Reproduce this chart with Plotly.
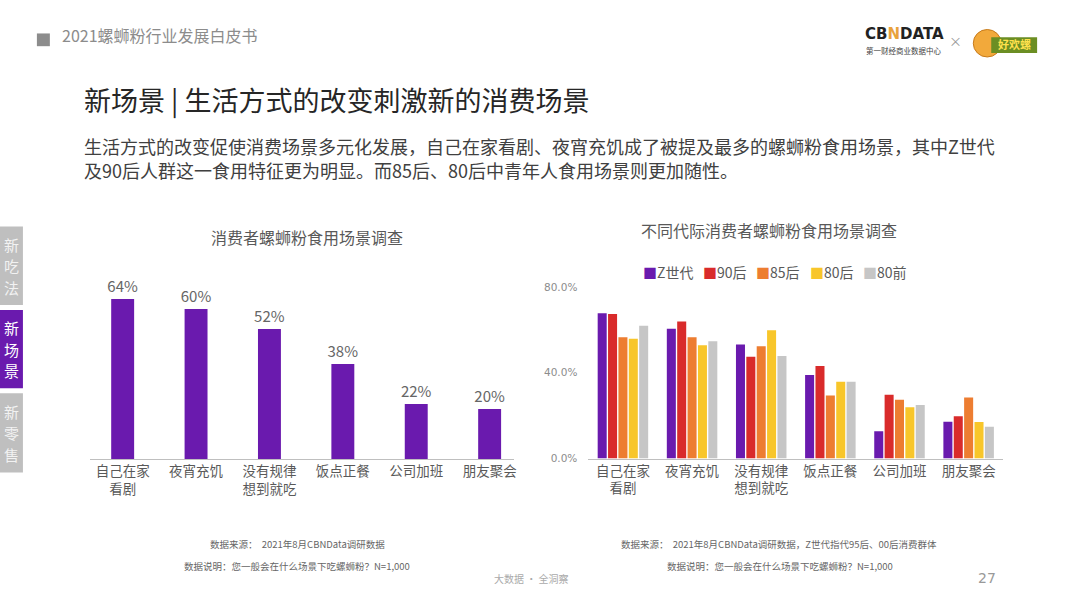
import plotly.graph_objects as go

W, H = 1080, 608
FONT = "Noto Sans CJK SC"

# ---------------- data ----------------
categories = ["自己在家<br>看剧", "夜宵充饥", "没有规律<br>想到就吃", "饭点正餐", "公司加班", "朋友聚会"]
overall_share = [64, 60, 52, 38, 22, 20]

generations = ["Z世代", "90后", "85后", "80后", "80前"]
gen_z = [67.8, 60.5, 53.2, 39.0, 12.7, 17.2]
gen_90 = [67.4, 63.9, 47.5, 43.2, 29.8, 19.8]
gen_85 = [56.6, 56.6, 52.4, 29.4, 27.4, 28.5]
gen_80 = [55.9, 52.8, 59.8, 35.8, 23.9, 17.1]
gen_pre80 = [62.0, 54.7, 47.8, 35.8, 25.0, 14.8]
gen_values = [gen_z, gen_90, gen_85, gen_80, gen_pre80]

right_ticks = [0, 40, 80]
right_tick_labels = ["0.0%", "40.0%", "80.0%"]

# ---------------- styles ----------------
PURPLE = "#6A1AAE"
gen_colors = [PURPLE, "#D92B2B", "#ED7D31", "#F8C62A", "#C6C6C6"]
AXIS_GREY = "#BFBFBF"
TEXT_GREY = "#595959"


def px(x):
    return x / W


def py(y):
    return 1 - y / H


fig = go.Figure()

# chart geometry (pixels)
l_x0, l_x1 = 90, 515
l_c0, l_step = 123, 73.6
l_base, l_top = 462, 270
l_scale = (462 - 299) / 64.0

r_x0, r_x1 = 590, 1006
r_base, r_top = 461.7, 286.7

# left chart
fig.add_trace(go.Bar(
    x=categories, y=overall_share, xaxis="x", yaxis="y",
    width=23 / l_step,
    marker=dict(color=PURPLE, line=dict(width=0)),
    text=[f"{v}%" for v in overall_share], textposition="outside",
    constraintext="none",
    textfont=dict(family=FONT, size=15, color="#666666"),
    cliponaxis=False, showlegend=False, hoverinfo="x+y",
))

# right chart
for name, vals, col in zip(generations, gen_values, gen_colors):
    fig.add_trace(go.Bar(
        x=categories, y=vals, name=name, xaxis="x2", yaxis="y2",
        marker=dict(color=col, line=dict(width=0)), showlegend=False,
    ))

fig.update_layout(
    width=W, height=H,
    margin=dict(l=0, r=0, t=0, b=0),
    paper_bgcolor="white", plot_bgcolor="white",
    font=dict(family=FONT, color=TEXT_GREY),
    barmode="group",
    bargap=0.25, bargroupgap=0.13,
    xaxis=dict(
        domain=[px(l_x0), px(l_x1)], anchor="y",
        range=[(l_x0 - l_c0) / l_step, (l_x1 - l_c0) / l_step],
        showline=True, linecolor=AXIS_GREY, linewidth=1,
        showgrid=False, ticks="", zeroline=False,
        tickfont=dict(family=FONT, size=13.5, color=TEXT_GREY),
        fixedrange=True,
    ),
    yaxis=dict(
        domain=[py(l_base), py(l_top)], anchor="x",
        range=[0, (l_base - l_top) / l_scale],
        visible=False, showgrid=False, zeroline=False, fixedrange=True,
    ),
    xaxis2=dict(
        domain=[px(r_x0), px(r_x1)], anchor="y2",
        range=[-0.5, 5.5],
        showline=True, linecolor=AXIS_GREY, linewidth=1,
        showgrid=False, ticks="", zeroline=False,
        tickfont=dict(family=FONT, size=13.5, color=TEXT_GREY),
        fixedrange=True,
    ),
    yaxis2=dict(
        domain=[py(r_base), py(r_top)], anchor="x2",
        range=[0, 80], tickvals=right_ticks, ticktext=right_tick_labels,
        showline=False, showgrid=False, zeroline=False, ticks="",
        ticklabelstandoff=10,
        tickfont=dict(family="DejaVu Sans", size=10.5, color="#8C8C8C"),
        fixedrange=True,
    ),
)

shapes = []
ann = []


def note(text, x, y, size, color, anchor="left", family=FONT):
    ann.append(dict(text=text, x=px(x), y=py(y), xref="paper", yref="paper",
                    xanchor=anchor, yanchor="middle", showarrow=False,
                    font=dict(family=family, size=size, color=color)))


# header
shapes.append(dict(type="rect", xref="paper", yref="paper",
                   x0=px(37), x1=px(50), y0=py(41), y1=py(28),
                   fillcolor="#8C8C8C", line=dict(width=0)))
note("2021螺蛳粉行业发展白皮书", 60, 29.5, 16, "#8C8C8C")

# logos (text approximations)
note("<b>CB<span style='color:#E9A23B'>N</span>DATA</b>", 865, 29, 15, "#222222", family="DejaVu Sans")
note("第一财经商业数据中心", 866, 45, 7.5, "#444444")
note("×", 958, 35, 13, "#999999", anchor="center")
shapes.append(dict(type="circle", xref="paper", yref="paper",
                   x0=px(976), x1=px(1004), y0=py(52), y1=py(24),
                   fillcolor="#F2A93B", line=dict(color="#C77A1A", width=1)))
shapes.append(dict(type="rect", xref="paper", yref="paper",
                   x0=px(994), x1=px(1040), y0=py(48), y1=py(32),
                   fillcolor="#6B8E23", line=dict(width=0)))
note("<b>好欢螺</b>", 1017, 39, 11, "#FFE14D", anchor="center")

# title and subtitle
note("新场景 | 生活方式的改变刺激新的消费场景", 82, 95, 27, "#262626")
note("生活方式的改变促使消费场景多元化发展，自己在家看剧、夜宵充饥成了被提及最多的螺蛳粉食用场景，其中Z世代",
     82, 143, 18, "#404040")
note("及90后人群这一食用特征更为明显。而85后、80后中青年人食用场景则更加随性。", 82, 167, 18, "#404040")

# side tabs (vertical text, one character per line)
tabs = [("新吃法", 225, 305, "#BFBFBF", "#F2F2F2"),
        ("新场景", 310, 390, PURPLE, "#FFFFFF"),
        ("新零售", 395, 476, "#BFBFBF", "#F2F2F2")]
for t, y0, y1, fc, tc in tabs:
    shapes.append(dict(type="rect", xref="paper", yref="paper",
                       x0=0, x1=px(23), y0=py(y1), y1=py(y0),
                       fillcolor=fc, line=dict(width=0)))
    yc = (y0 + y1) / 2
    for k, ch in enumerate(t):
        note(ch, 11.5, yc + (k - 1) * 22, 15, tc, anchor="center")

# chart titles
note("消费者螺蛳粉食用场景调查", 308, 236, 16, TEXT_GREY, anchor="center")
note("不同代际消费者螺蛳粉食用场景调查", 771, 229, 16, TEXT_GREY, anchor="center")

# compact legend for the right chart
legend_x = [643, 703, 756, 810, 863]
for name, col, lx in zip(generations, gen_colors, legend_x):
    note(f"<span style='color:{col}'>■</span>{name}", lx, 271, 14, TEXT_GREY)

# footnotes
foot = "#666666"
note("数据来源：  2021年8月CBNData调研数据", 298, 549, 9.5, foot, anchor="center")
note("数据说明：您一般会在什么场景下吃螺蛳粉？N=1,000", 298, 571, 9.5, foot, anchor="center")
note("数据来源：  2021年8月CBNData调研数据，Z世代指代95后、00后消费群体", 781, 549, 9.5, foot, anchor="center")
note("数据说明：您一般会在什么场景下吃螺蛳粉？N=1,000", 782, 571, 9.5, foot, anchor="center")
note("大数据 · 全洞察", 532, 584, 10, "#AAAAAA", anchor="center")
note("27", 990, 584, 14, "#999999", anchor="center", family="DejaVu Sans")

fig.update_layout(shapes=shapes, annotations=ann)

fig.write_html("out.html", config={"displayModeBar": False})
